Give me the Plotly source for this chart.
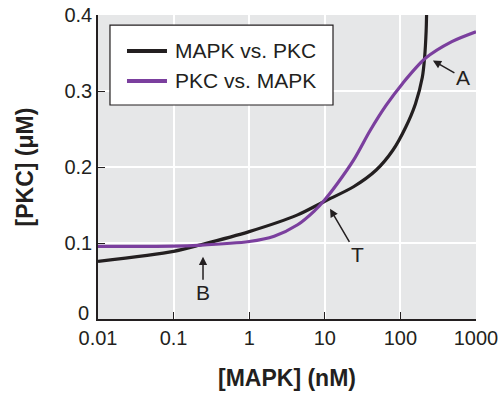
import plotly.graph_objects as go

# Black curve: MAPK as function of PKC
black_mapk = [0.01, 0.1, 0.229, 1, 4.37, 10, 24, 47.9, 79.4, 117, 158, 195, 209, 219, 222]
black_pkc  = [0.0757, 0.089, 0.0977, 0.115, 0.137, 0.155, 0.174, 0.196, 0.222, 0.252, 0.283, 0.318, 0.344, 0.379, 0.40]

# Purple curve: PKC as function of MAPK
purple_mapk = [0.01, 0.1, 0.21, 1, 2.14, 4.37, 7.24, 10, 14.6, 24, 39.8, 64.6, 107, 214, 479, 1000]
purple_pkc  = [0.0955, 0.096, 0.097, 0.102, 0.109, 0.124, 0.142, 0.157, 0.178, 0.209, 0.248, 0.281, 0.310, 0.343, 0.365, 0.378]

series_names = ["MAPK vs. PKC", "PKC vs. MAPK"]
series_colors = ["#231f20", "#7b3f9e"]

x_ticks = [0.01, 0.1, 1, 10, 100, 1000]
x_labels = ["0.01", "0.1", "1", "10", "100", "1000"]
y_ticks = [0, 0.1, 0.2, 0.3, 0.4]
y_labels = ["0", "0.1", "0.2", "0.3", "0.4"]

fig = go.Figure()
fig.add_trace(go.Scatter(x=black_mapk, y=black_pkc, mode="lines", name=series_names[0],
                         showlegend=False,
                         line=dict(color=series_colors[0], width=3.2, shape="spline", smoothing=0.8)))
fig.add_trace(go.Scatter(x=purple_mapk, y=purple_pkc, mode="lines", name=series_names[1],
                         showlegend=False,
                         line=dict(color=series_colors[1], width=3.2, shape="spline", smoothing=0.8)))

FONT = "Arial, Liberation Sans, sans-serif"
INK = "#231f20"

# custom legend (box, line samples, labels) in paper coordinates
shapes = [
    dict(type="rect", xref="paper", yref="paper", x0=0.0317, x1=0.6217, y0=0.704, y1=0.967,
         line=dict(color=INK, width=1.2), fillcolor="white", layer="above"),
]
annotations = []
legend_rows_y = [0.8816, 0.7829]
for name, color, yy in zip(series_names, series_colors, legend_rows_y):
    shapes.append(dict(type="line", xref="paper", yref="paper", x0=0.0767, x1=0.1825, y0=yy, y1=yy,
                       line=dict(color=color, width=4), layer="above"))
    annotations.append(dict(xref="paper", yref="paper", x=0.199, y=yy, text=name, showarrow=False,
                            xanchor="left", yanchor="middle", font=dict(family=FONT, size=21, color=INK)))

# the "0" y tick label sits slightly above its gridline in the reference
y_ticktext = [""] + y_labels[1:]
annotations.append(dict(xref="paper", yref="paper", x=-0.0185, y=0.0197, text=y_labels[0],
                        showarrow=False, xanchor="right", yanchor="middle",
                        font=dict(family=FONT, size=20, color=INK)))

arrow_style = dict(showarrow=True, arrowhead=2, arrowsize=1.1, arrowwidth=1.5, arrowcolor=INK,
                   font=dict(family=FONT, size=21, color=INK))
annotations += [
    dict(x=2.43, y=0.340, xref="x", yref="y", text="A", ax=30, ay=17, **arrow_style),
    dict(x=-0.611, y=0.082, xref="x", yref="y", text="B", ax=0, ay=36, **arrow_style),
    dict(x=1.069, y=0.145, xref="x", yref="y", text="T", ax=27, ay=46, **arrow_style),
]

fig.update_layout(
    width=501, height=400,
    margin=dict(l=98, r=25, t=15, b=81),
    paper_bgcolor="white", plot_bgcolor="#e6e7e8",
    font=dict(family=FONT, size=20, color=INK),
    showlegend=False,
    xaxis=dict(type="log", range=[-2, 3], tickvals=x_ticks, ticktext=x_labels,
               automargin=False,
               showgrid=True, gridcolor="white", gridwidth=2,
               showline=True, linecolor=INK, linewidth=1.5,
               ticks="inside", ticklen=7, tickcolor=INK, zeroline=False,
               tickfont=dict(size=20),
               title=dict(text="<b>[MAPK] (nM)</b>", standoff=22, font=dict(size=23))),
    yaxis=dict(range=[0, 0.4], tickvals=y_ticks, ticktext=y_ticktext,
               automargin=False,
               showgrid=True, gridcolor="white", gridwidth=2,
               showline=True, linecolor=INK, linewidth=1.5,
               ticks="inside", ticklen=7, tickcolor=INK, zeroline=False,
               tickfont=dict(size=20),
               title=dict(text="<b>[PKC] (μM)</b>", standoff=24, font=dict(size=23))),
    shapes=shapes,
    annotations=annotations,
)

fig.write_html("out.html")
